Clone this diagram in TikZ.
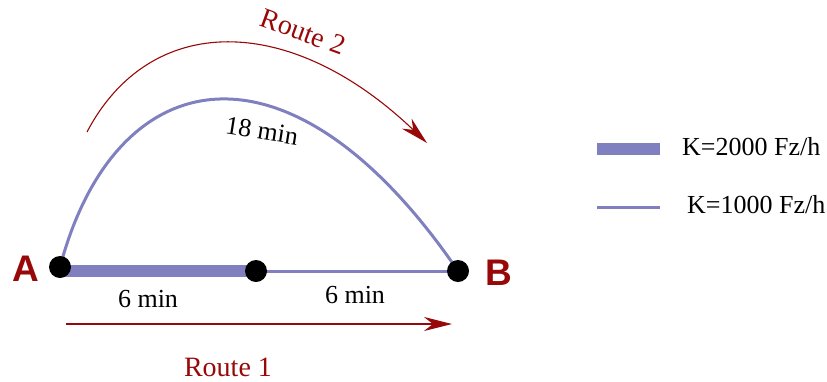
\documentclass[tikz,border=0pt]{standalone}
\usepackage{fontspec}
\setmainfont{Liberation Serif}
\newfontfamily\endfont{Liberation Sans}
\usetikzlibrary{arrows.meta,backgrounds}
\definecolor{lineblue}{RGB}{128,128,192}
\definecolor{routered}{RGB}{152,8,8}

\begin{document}
\begin{tikzpicture}[x=1pt, y=-1pt, >=Stealth,
    dot/.style={circle, fill=black, inner sep=0pt, minimum size=22pt},
    thickroad/.style={lineblue, line width=12pt},
    thinroad/.style={lineblue, line width=3pt},
    route/.style={routered, line width=1.1pt, -{Stealth[length=28pt, width=14pt, inset=9pt]}},
    lbl/.style={inner sep=0pt, font=\fontsize{26}{30}\selectfont},
    routelbl/.style={lbl, routered, font=\fontsize{28}{32}\selectfont},
    ends/.style={routered, inner sep=0pt, font=\endfont\bfseries\fontsize{37}{40}\selectfont}]
    \useasboundingbox (0,0) rectangle (827,381);

    % 站点
    \node[dot] (A) at (60,267) {};
    \node[dot] (M) at (256,271) {};
    \node[dot] (B) at (458,271) {};
    \node[ends] (la) at (26,269) {A};
    \node[ends] (lb) at (499,273) {B};

    % 道路 (放在背景层, 点盖在上面)
    \begin{scope}[on background layer]
        \draw[thickroad] (A.center |- M.center) -- (M.center);
        \draw[thinroad] (M.center) -- (B.center);
        \draw[thinroad] (A.center) .. controls (115,60) and (290,25) .. (B.center);
    \end{scope}

    % 行驶时间
    \node[lbl] (t1) at (148,299) {6 min};
    \node[lbl] (t2) at (355,295) {6 min};
    \node[lbl, rotate=-9] (t3) at (262,131) {18 min};

    % 路线箭头
    \coordinate (r1s) at (66,324);
    \coordinate (r1e) at (452,324);
    \draw[route] (r1s) -- (r1e);
    \node[routelbl] (r1) at (228,367) {Route 1};

    \coordinate (r2s) at (87,132);
    \coordinate (r2e) at (427,143);
    \draw[route] (r2s) .. controls (150,12) and (290,12) .. (r2e);
    \node[routelbl, rotate=-20] (r2) at (303,32) {Route 2};

    % 图例
    \coordinate (k1s) at (597,149);
    \coordinate (k1e) at (660,149);
    \draw[thickroad] (k1s) -- (k1e);
    \node[lbl, anchor=west] (k1) at (682,147) {K=2000 Fz/h};
    \coordinate (k2s) at (597,207);
    \coordinate (k2e) at (660,207);
    \draw[thinroad] (k2s) -- (k2e);
    \node[lbl, anchor=west] (k2) at (687,205) {K=1000 Fz/h};
\end{tikzpicture}
\end{document}
